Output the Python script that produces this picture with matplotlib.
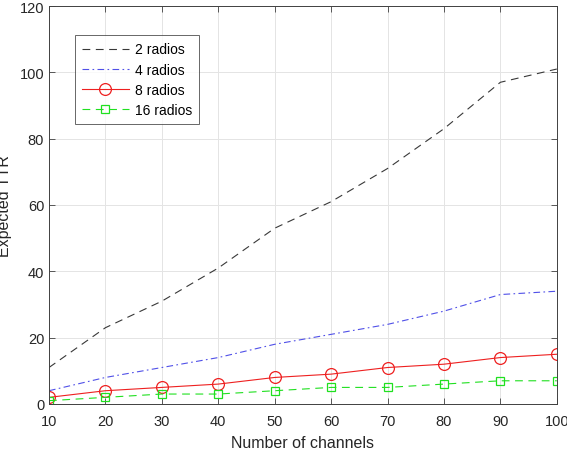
import matplotlib

matplotlib.use("Agg")
import matplotlib.pyplot as plt

channels = [10, 20, 30, 40, 50, 60, 70, 80, 90, 100]
ttr_2 = [11, 23, 31, 41, 53, 61, 71, 83, 97, 101]
ttr_4 = [4, 8, 11, 14, 18, 21, 24, 28, 33, 34]
ttr_8 = [2, 4, 5, 6, 8, 9, 11, 12, 14, 15]
ttr_16 = [1, 2, 3, 3, 4, 5, 5, 6, 7, 7]

plt.rcParams["font.family"] = ["Liberation Sans", "DejaVu Sans"]

fig = plt.figure(figsize=(5.67, 4.52), dpi=100)
ax = fig.add_axes([0.0864, 0.104, 0.8956, 0.8805])

ax.plot(channels, ttr_2, color="#383838", linestyle=(0, (7, 5)), linewidth=0.8, label="2 radios")
ax.plot(channels, ttr_4, color="#5050e8", linestyle=(0, (6, 3, 1.5, 3)), linewidth=0.8, label="4 radios")
ax.plot(channels, ttr_8, color="#ee2020", linestyle="-", linewidth=0.8, marker="o", markersize=8.5,
        markerfacecolor="none", markeredgewidth=0.9, label="8 radios")
ax.plot(channels, ttr_16, color="#20e020", linestyle=(0, (7, 5)), linewidth=0.8, marker="s", markersize=6,
        markerfacecolor="none", markeredgewidth=0.9, label="16 radios")

ax.set_xlim(10, 100)
ax.set_ylim(0, 120)
ax.set_xticks(channels)
ax.set_yticks(range(0, 121, 20))
ax.grid(True, color="#e4e4e4", linewidth=0.7)
ax.set_axisbelow(True)
ax.tick_params(direction="in", top=True, right=True, length=4, width=0.6, colors="#404040",
               labelsize=10.5, labelcolor="#262626")
ax.tick_params(axis="x", pad=7)
for spine in ax.spines.values():
    spine.set_color("#404040")
    spine.set_linewidth(0.7)

ax.set_xlabel("Number of channels", fontsize=11.5, color="#262626")
ax.set_ylabel("Expected TTR", fontsize=11.5, color="#262626")
ax.xaxis.set_label_coords(0.5, -0.078)
ax.yaxis.set_label_coords(-0.072, 0.5)

leg = ax.legend(loc="upper left", bbox_to_anchor=(0.051, 0.926), borderaxespad=0, fontsize=10, frameon=True,
                fancybox=False, edgecolor="#404040", handlelength=3.4, borderpad=0.5, labelspacing=0.45,
                handletextpad=0.4)
leg.get_frame().set_linewidth(0.7)

fig.savefig("out.png")
